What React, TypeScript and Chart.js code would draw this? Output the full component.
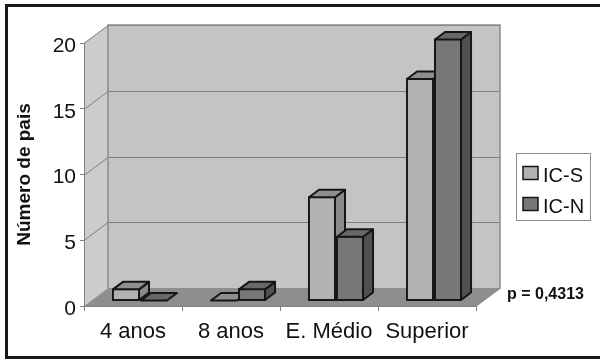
import React, { useEffect, useRef } from "react";
import { Chart, registerables } from "chart.js";

Chart.register(...registerables);

// Education level of the parents, by group
const categories = ["4 anos", "8 anos", "E. Médio", "Superior"];
const seriesNames = ["IC-S", "IC-N"];
const icS = [1, 0, 8, 17];
const icN = [0, 1, 5, 20];
const yTickValues = [0, 5, 10, 15, 20];
const yTitle = "Número de pais";
const pValueLabel = "p = 0,4313";

const FONT = 'Arial, "Liberation Sans", sans-serif';

// pseudo-3D geometry: depth of the plot box and of each bar
const WALL_DX = 24;
const WALL_DY = -18;
const BAR_DX = 10;
const BAR_DY = -7.5;
const BAR_SHIFT_X = 7;
const BAR_SHIFT_Y = -4.5;

const faceColors = [
  { front: "#b2b2b2", top: "#8f8f8f", side: "#8a8a8a" },
  { front: "#777777", top: "#686868", side: "#505050" },
];
const OUTLINE = "#161616";

type Pt = [number, number];

function polygon(ctx: CanvasRenderingContext2D, pts: Pt[], fill: string | null, stroke: boolean) {
  ctx.beginPath();
  ctx.moveTo(pts[0][0], pts[0][1]);
  for (let i = 1; i < pts.length; i++) ctx.lineTo(pts[i][0], pts[i][1]);
  ctx.closePath();
  if (fill) {
    ctx.fillStyle = fill;
    ctx.fill();
  }
  if (stroke) ctx.stroke();
}

const scene3d = {
  id: "scene3d",
  beforeDraw(chart: any) {
    const { ctx, chartArea: a, scales } = chart;
    const y = scales.y;
    const L = a.left;
    const R = a.right;
    const T = a.top;
    const B = a.bottom;
    ctx.save();

    // outer frame
    ctx.strokeStyle = "#1a1a1a";
    ctx.lineWidth = 3;
    ctx.strokeRect(6.5, 5.5, 700, 352);

    // side wall, back wall, floor
    polygon(ctx, [[L, B], [L, T], [L + WALL_DX, T + WALL_DY], [L + WALL_DX, B + WALL_DY]], "#cccccc", false);
    ctx.fillStyle = "#c4c4c4";
    ctx.fillRect(L + WALL_DX, T + WALL_DY, R - L, B - T);
    polygon(ctx, [[L, B], [R, B], [R + WALL_DX, B + WALL_DY], [L + WALL_DX, B + WALL_DY]], "#8e8e8e", false);

    // grid lines across side wall and back wall
    ctx.strokeStyle = "#7e7e7e";
    ctx.lineWidth = 1;
    for (const v of yTickValues) {
      if (v === 0) continue;
      const py = Math.round(y.getPixelForValue(v)) + 0.5;
      ctx.beginPath();
      ctx.moveTo(L, py);
      ctx.lineTo(L + WALL_DX, py + WALL_DY);
      ctx.lineTo(R + WALL_DX, py + WALL_DY);
      ctx.stroke();
    }

    // wall edges
    ctx.strokeStyle = "#8a8a8a";
    ctx.lineWidth = 1.5;
    ctx.beginPath();
    ctx.moveTo(L + WALL_DX, B + WALL_DY);
    ctx.lineTo(L + WALL_DX, T + WALL_DY);
    ctx.lineTo(R + WALL_DX, T + WALL_DY);
    ctx.lineTo(R + WALL_DX, B + WALL_DY);
    ctx.lineTo(R, B);
    ctx.stroke();
    ctx.restore();
  },
  // bars are drawn below, left series first, so each right-hand bar hides the side of its neighbour
  beforeDatasetDraw() {
    return false;
  },
  afterDatasetsDraw(chart: any) {
    const ctx = chart.ctx;
    const count = chart.data.datasets.length;
    for (let i = 0; i < count; i++) {
      const meta = chart.getDatasetMeta(i);
      if (!meta.visible) continue;
      const c = faceColors[i];
      ctx.save();
      ctx.translate(BAR_SHIFT_X, BAR_SHIFT_Y);
      meta.controller.draw();
      ctx.lineWidth = 2;
      ctx.strokeStyle = OUTLINE;
      ctx.lineJoin = "round";
      for (const el of meta.data) {
        const { x, y, base, width } = el.getProps(["x", "y", "base", "width"], true);
        const xl = x - width / 2 + 1;
        const xr = x + width / 2 - 1;
        const flat = Math.abs(base - y) < 2;
        const yt = flat ? base - 1 : y + 1;
        const yb = base - 1;
        if (!flat) {
          polygon(ctx, [[xr, yt], [xr + BAR_DX, yt + BAR_DY], [xr + BAR_DX, yb + BAR_DY], [xr, yb]], c.side, true);
        }
        polygon(ctx, [[xl, yt], [xr, yt], [xr + BAR_DX, yt + BAR_DY], [xl + BAR_DX, yt + BAR_DY]], c.top, true);
      }
      ctx.restore();
    }
  },
  afterDraw(chart: any) {
    const ctx = chart.ctx;
    ctx.save();
    // legend
    ctx.fillStyle = "#ffffff";
    ctx.fillRect(516, 153, 74, 67);
    ctx.strokeStyle = "#8c8c8c";
    ctx.lineWidth = 1;
    ctx.strokeRect(516.5, 153.5, 74, 67);
    ctx.font = `20px ${FONT}`;
    ctx.textBaseline = "middle";
    ctx.textAlign = "left";
    seriesNames.forEach((name, i) => {
      const cy = 175.5 + i * 31;
      ctx.fillStyle = faceColors[i].front;
      ctx.fillRect(523, cy - 9, 15, 13);
      ctx.strokeStyle = OUTLINE;
      ctx.lineWidth = 1.5;
      ctx.strokeRect(523, cy - 9, 15, 13);
      ctx.fillStyle = "#111111";
      ctx.fillText(name, 543, cy + 1);
    });
    // significance note
    ctx.font = `bold 16px ${FONT}`;
    ctx.fillStyle = "#111111";
    ctx.fillText(pValueLabel, 507, 295);
    ctx.restore();
  },
};

export default function App() {
  const ref = useRef<HTMLCanvasElement>(null);

  useEffect(() => {
    const canvas = ref.current;
    if (!canvas) return;
    const chart = new Chart(canvas, {
      type: "bar",
      data: {
        labels: categories,
        datasets: [
          {
            label: seriesNames[0],
            data: icS,
            backgroundColor: faceColors[0].front,
            borderColor: OUTLINE,
            borderWidth: 2,
            borderSkipped: false,
          },
          {
            label: seriesNames[1],
            data: icN,
            backgroundColor: faceColors[1].front,
            borderColor: OUTLINE,
            borderWidth: 2,
            borderSkipped: false,
          },
        ],
      },
      options: {
        responsive: false,
        animation: false,
        devicePixelRatio: 1,
        layout: { padding: { left: 10, right: 124, top: 43, bottom: 0 } },
        datasets: { bar: { categoryPercentage: 0.572, barPercentage: 1 } },
        plugins: {
          legend: { display: false },
          tooltip: { enabled: false },
        },
        scales: {
          x: {
            afterFit: (s: any) => {
              s.height = 55;
            },
            grid: {
              offset: true,
              drawOnChartArea: false,
              drawTicks: true,
              tickLength: 5,
              color: "#808080",
            },
            border: { display: true, color: "#808080", width: 1 },
            ticks: {
              padding: 8,
              color: "#111111",
              font: { family: FONT, size: 22 },
            },
          },
          y: {
            min: 0,
            max: 20,
            afterFit: (s: any) => {
              s.width = 74;
            },
            grid: {
              drawOnChartArea: false,
              drawTicks: true,
              tickLength: 4,
              color: "#808080",
            },
            border: { display: true, color: "#808080", width: 1 },
            ticks: {
              stepSize: 5,
              padding: 4,
              labelOffset: 3,
              color: "#111111",
              font: { family: FONT, size: 21 },
            },
            title: {
              display: true,
              text: yTitle,
              color: "#111111",
              font: { family: FONT, size: 19, weight: "bold" },
              padding: { top: 3, bottom: 0 },
            },
          },
        },
      },
      plugins: [scene3d],
    });
    return () => chart.destroy();
  }, []);

  return (
    <div style={{ position: "fixed", left: 0, top: 0, width: 600, height: 361, background: "#ffffff" }}>
      <canvas ref={ref} width={600} height={361} style={{ display: "block" }} />
    </div>
  );
}
